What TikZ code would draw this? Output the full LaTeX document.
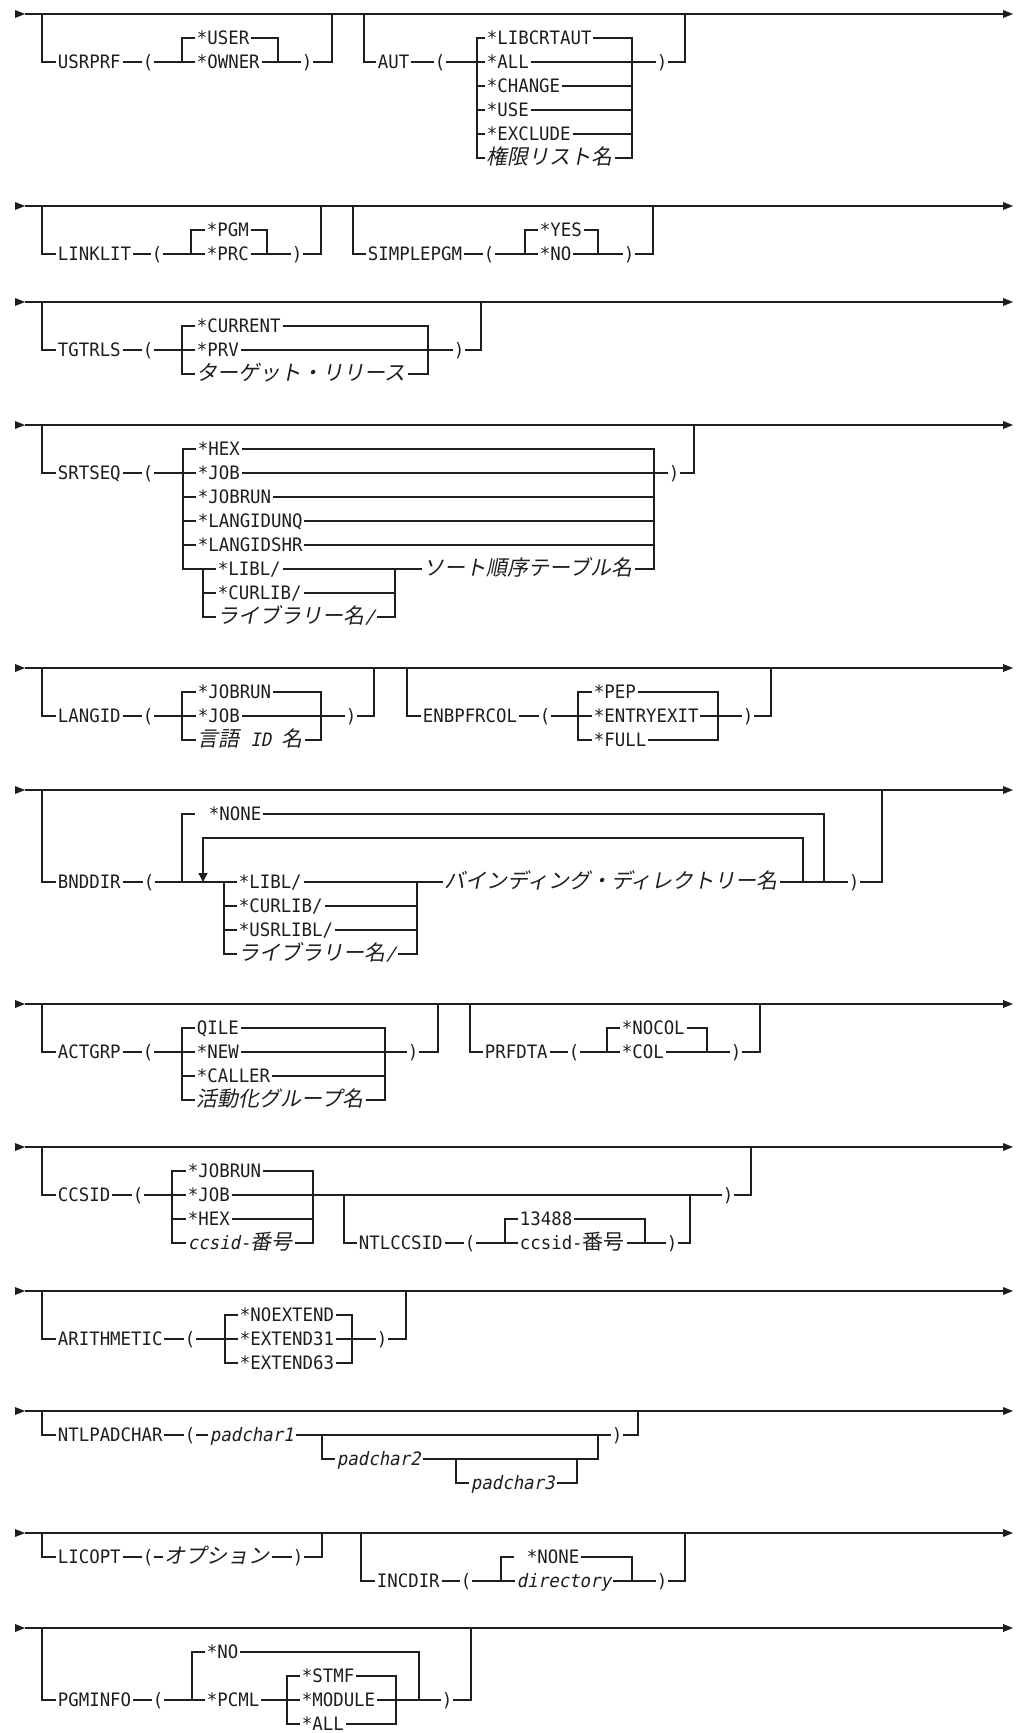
\documentclass[tikz,border=0pt]{standalone}
\usepackage{fontspec}
\usetikzlibrary{arrows.meta}
\newfontfamily\dmonofam{DejaVu Sans Mono}[FakeStretch=0.94]
\newfontfamily\dmonoifam{DejaVu Sans Mono}[FakeStretch=0.94,FakeSlant=0.2]
\newfontfamily\djpfam{Noto Sans CJK JP}
\newfontfamily\djpifam{Noto Sans CJK JP}[FakeSlant=0.2]
\newcommand\DMo{\dmonofam\fontsize{9.25pt}{10pt}\selectfont}
\newcommand\DMi{\dmonoifam\fontsize{9.25pt}{10pt}\selectfont}
\newcommand\DJp{\djpfam\fontsize{10.5pt}{12pt}\selectfont}
\newcommand\DJi{\djpifam\fontsize{10.5pt}{12pt}\selectfont}
\definecolor{ink}{RGB}{30,30,30}
\def\yA{24}\def\yB{48}\def\yC{72}\def\yD{96}
\def\yE{120}\def\yF{144}\def\yG{168}\def\yH{192}
\def\yR{92}\def\yRa{116}\def\yRb{140}\def\yRc{164}
\newcommand\MainLine[1]{%
  \coordinate (#1a) at (25,0); \coordinate (#1b) at (1003,0);
  \fill (15,-4) -- (#1a) -- (15,4) -- cycle;
  \draw (#1a) -- (#1b);
  \fill (1003,-4) -- (1013,0) -- (1003,4) -- cycle;}
\tikzset{
  t/.style={anchor=west,inner xsep=0.6pt,inner ysep=0pt,text height=8pt,text depth=1.25pt,font=\DMo},
  ti/.style={t,font=\DMi},
  tj/.style={t,font=\DJi},
  pc/.style={anchor=center,inner xsep=0pt,inner ysep=0pt,text height=8pt,text depth=1.25pt,font=\DMo},
}
\begin{document}
\begin{tikzpicture}[x=0.5pt,y=-0.5pt,line width=0.68pt,color=ink]
\useasboundingbox (0,0) rectangle (1021,1733);

% ---------------- Section 1 ----------------
\begin{scope}[shift={(0,14)}]
\MainLine{sA}
\node[t] (usrprf) at (56,\yB) {USRPRF};
\node[pc] (usrprfO) at (148,\yB) {(};
\node[t] (user) at (195,\yA) {*USER};
\node[t] (owner) at (195,\yB) {*OWNER};
\node[pc] (usrprfC) at (307,\yB) {)};
\draw (42,0) |- (usrprf);
\draw (usrprf) -- (usrprfO) -- (owner);
\draw (182,\yB) |- (user);
\draw (user) -| (278,\yB);
\draw (owner) -- (usrprfC);
\draw (usrprfC) -| (332,0);
\node[t] (aut) at (376,\yB) {AUT};
\node[pc] (autO) at (440,\yB) {(};
\node[t] (aut1) at (485,\yA) {*LIBCRTAUT};
\node[t] (aut2) at (485,\yB) {*ALL};
\node[t] (aut3) at (485,\yC) {*CHANGE};
\node[t] (aut4) at (485,\yD) {*USE};
\node[t] (aut5) at (485,\yE) {*EXCLUDE};
\node[tj] (aut6) at (485,\yF) {権限リスト名};
\node[pc] (autC) at (662,\yB) {)};
\draw (364,0) |- (aut);
\draw (aut) -- (autO) -- (aut2);
\foreach \n in {1,3,4,5,6} {\draw (477,\yB) |- (aut\n); \draw (aut\n) -| (632,\yB);}
\draw (aut2) -- (autC);
\draw (autC) -| (685,0);
\end{scope}

% ---------------- Section 2 ----------------
\begin{scope}[shift={(0,206)}]
\MainLine{sB}
\node[t] (lnk) at (56,\yB) {LINKLIT};
\node[pc] (lnkO) at (157,\yB) {(};
\node[t] (pgm) at (205,\yA) {*PGM};
\node[t] (prc) at (205,\yB) {*PRC};
\node[pc] (lnkC) at (297,\yB) {)};
\draw (42,0) |- (lnk);
\draw (lnk) -- (lnkO) -- (prc);
\draw (191,\yB) |- (pgm);
\draw (pgm) -| (267,\yB);
\draw (prc) -- (lnkC);
\draw (lnkC) -| (321,0);
\node[t] (smp) at (366,\yB) {SIMPLEPGM};
\node[pc] (smpO) at (489,\yB) {(};
\node[t] (yes) at (538,\yA) {*YES};
\node[t] (nno) at (538,\yB) {*NO};
\node[pc] (smpC) at (629,\yB) {)};
\draw (353,0) |- (smp);
\draw (smp) -- (smpO) -- (nno);
\draw (525,\yB) |- (yes);
\draw (yes) -| (598,\yB);
\draw (nno) -- (smpC);
\draw (smpC) -| (653,0);
\end{scope}

% ---------------- Section 3 ----------------
\begin{scope}[shift={(0,302)}]
\MainLine{sC}
\node[t] (tgt) at (56,\yB) {TGTRLS};
\node[pc] (tgtO) at (148,\yB) {(};
\node[t] (cur) at (195,\yA) {*CURRENT};
\node[t] (prv) at (195,\yB) {*PRV};
\node[tj] (tgr) at (195,\yC) {ターゲット・リリース};
\node[pc] (tgtC) at (459,\yB) {)};
\draw (42,0) |- (tgt);
\draw (tgt) -- (tgtO) -- (prv);
\draw (182,\yB) |- (cur);
\draw (182,\yB) |- (tgr);
\draw (cur) -| (428,\yB);
\draw (tgr) -| (428,\yB);
\draw (prv) -- (tgtC);
\draw (tgtC) -| (481,0);
\end{scope}

% ---------------- Section 4 ----------------
\begin{scope}[shift={(0,425)}]
\MainLine{sD}
\node[t] (srt) at (56,\yB) {SRTSEQ};
\node[pc] (srtO) at (148,\yB) {(};
\node[t] (hex) at (196,\yA) {*HEX};
\node[t] (job) at (196,\yB) {*JOB};
\node[t] (jobrun) at (196,\yC) {*JOBRUN};
\node[t] (lidu) at (196,\yD) {*LANGIDUNQ};
\node[t] (lids) at (196,\yE) {*LANGIDSHR};
\node[t] (libl) at (216,\yF) {*LIBL/};
\node[t] (curlib) at (216,\yG) {*CURLIB/};
\node[t] (libn) at (216,\yH) {{\DJi ライブラリー名}{\DMi /}};
\node[tj] (sort) at (422,\yF) {ソート順序テーブル名};
\node[pc] (srtC) at (674,\yB) {)};
\draw (42,0) |- (srt);
\draw (srt) -- (srtO) -- (job);
\foreach \n in {hex,jobrun,lidu,lids} {\draw (183,\yB) |- (\n); \draw (\n) -| (654,\yB);}
\draw (183,\yB) |- (libl);
\draw (203,\yF) |- (curlib);
\draw (203,\yF) |- (libn);
\draw (libl) -- (sort);
\draw (curlib) -| (395,\yF);
\draw (libn) -| (395,\yF);
\draw (sort) -| (654,\yB);
\draw (job) -- (srtC);
\draw (srtC) -| (694,0);
\end{scope}

% ---------------- Section 5 ----------------
\begin{scope}[shift={(0,668)}]
\MainLine{sE}
\node[t] (lng) at (56,\yB) {LANGID};
\node[pc] (lngO) at (148,\yB) {(};
\node[t] (ljr) at (196,\yA) {*JOBRUN};
\node[t] (ljb) at (196,\yB) {*JOB};
\node[t] (lnm) at (196,\yC) {{\DJi 言語}{\DMi\ ID\ }{\DJi 名}};
\node[pc] (lngC) at (351,\yB) {)};
\draw (42,0) |- (lng);
\draw (lng) -- (lngO) -- (ljb);
\draw (182,\yB) |- (ljr);
\draw (182,\yB) |- (lnm);
\draw (ljr) -| (321,\yB);
\draw (lnm) -| (321,\yB);
\draw (ljb) -- (lngC);
\draw (lngC) -| (374,0);
\node[t] (enb) at (421,\yB) {ENBPFRCOL};
\node[pc] (enbO) at (545,\yB) {(};
\node[t] (pep) at (592,\yA) {*PEP};
\node[t] (ent) at (592,\yB) {*ENTRYEXIT};
\node[t] (full) at (592,\yC) {*FULL};
\node[pc] (enbC) at (748,\yB) {)};
\draw (407,0) |- (enb);
\draw (enb) -- (enbO) -- (ent);
\draw (578,\yB) |- (pep);
\draw (578,\yB) |- (full);
\draw (pep) -| (718,\yB);
\draw (full) -| (718,\yB);
\draw (ent) -- (enbC);
\draw (enbC) -| (771,0);
\end{scope}

% ---------------- Section 6 ----------------
\begin{scope}[shift={(0,790)}]
\MainLine{sF}
\node[t] (bnd) at (56,\yR) {BNDDIR};
\node[pc] (bndO) at (149,\yR) {(};
\node[t] (none) at (207,\yA) {*NONE};
\node[t] (libl2) at (237,\yR) {*LIBL/};
\node[t] (cur2) at (237,\yRa) {*CURLIB/};
\node[t] (usr2) at (237,\yRb) {*USRLIBL/};
\node[t] (libn2) at (237,\yRc) {{\DJi ライブラリー名}{\DMi /}};
\node[tj] (bdn) at (443,\yR) {バインディング・ディレクトリー名};
\node[pc] (bndC) at (854,\yR) {)};
\draw (42,0) |- (bnd);
\draw (bnd) -- (bndO) -- (libl2);
\draw (182,\yR) |- (195,\yA);
\draw (none) -| (824,\yR);
\draw[-{Triangle[length=4.5pt,width=4.5pt]}] (803,\yR) |- (203,\yB) -- (203,\yR);
\foreach \n in {cur2,usr2,libn2} {\draw (224,\yR) |- (\n); \draw (\n) -| (417,\yR);}
\draw (libl2) -- (bdn);
\draw (bdn) -- (bndC);
\draw (bndC) -| (882,0);
\end{scope}

% ---------------- Section 7 ----------------
\begin{scope}[shift={(0,1004)}]
\MainLine{sG}
\node[t] (act) at (56,\yB) {ACTGRP};
\node[pc] (actO) at (148,\yB) {(};
\node[t] (qile) at (195,\yA) {QILE};
\node[t] (new) at (195,\yB) {*NEW};
\node[t] (caller) at (195,\yC) {*CALLER};
\node[tj] (agn) at (195,\yD) {活動化グループ名};
\node[pc] (actC) at (413,\yB) {)};
\draw (42,0) |- (act);
\draw (act) -- (actO) -- (new);
\foreach \n in {qile,caller,agn} {\draw (182,\yB) |- (\n); \draw (\n) -| (385,\yB);}
\draw (new) -- (actC);
\draw (actC) -| (438,0);
\node[t] (prf) at (483,\yB) {PRFDTA};
\node[pc] (prfO) at (574,\yB) {(};
\node[t] (nocol) at (620,\yA) {*NOCOL};
\node[t] (col) at (620,\yB) {*COL};
\node[pc] (prfC) at (736,\yB) {)};
\draw (470,0) |- (prf);
\draw (prf) -- (prfO) -- (col);
\draw (607,\yB) |- (nocol);
\draw (nocol) -| (707,\yB);
\draw (col) -- (prfC);
\draw (prfC) -| (760,0);
\end{scope}

% ---------------- Section 8 ----------------
\begin{scope}[shift={(0,1147)}]
\MainLine{sH}
\node[t] (ccs) at (56,\yB) {CCSID};
\node[pc] (ccsO) at (138,\yB) {(};
\node[t] (cjr) at (186,\yA) {*JOBRUN};
\node[t] (cjb) at (186,\yB) {*JOB};
\node[t] (chx) at (186,\yC) {*HEX};
\node[t] (cnum) at (186,\yD) {{\DMi ccsid-}{\DJi 番号}};
\node[t] (ntl) at (357,\yD) {NTLCCSID};
\node[pc] (ntlO) at (470,\yD) {(};
\node[t] (n13) at (518,\yC) {13488};
\node[t] (nnum) at (518,\yD) {ccsid-{\DJp 番号}};
\node[pc] (ntlC) at (672,\yD) {)};
\node[pc] (ccsC) at (728,\yB) {)};
\draw (42,0) |- (ccs);
\draw (ccs) -- (ccsO) -- (cjb);
\foreach \n in {cjr,chx,cnum} {\draw (172,\yB) |- (\n); \draw (\n) -| (313,\yB);}
\draw (cjb) -- (ccsC);
\draw (344,\yB) |- (ntl);
\draw (ntl) -- (ntlO) -- (nnum);
\draw (505,\yD) |- (n13);
\draw (n13) -| (645,\yD);
\draw (nnum) -- (ntlC);
\draw (ntlC) -| (690,\yB);
\draw (ccsC) -| (751,0);
\end{scope}

% ---------------- Section 9 ----------------
\begin{scope}[shift={(0,1291)}]
\MainLine{sI}
\node[t] (ari) at (56,\yB) {ARITHMETIC};
\node[pc] (ariO) at (190,\yB) {(};
\node[t] (noe) at (238,\yA) {*NOEXTEND};
\node[t] (e31) at (238,\yB) {*EXTEND31};
\node[t] (e63) at (238,\yC) {*EXTEND63};
\node[pc] (ariC) at (382,\yB) {)};
\draw (42,0) |- (ari);
\draw (ari) -- (ariO) -- (e31);
\foreach \n in {noe,e63} {\draw (225,\yB) |- (\n); \draw (\n) -| (352,\yB);}
\draw (e31) -- (ariC);
\draw (ariC) -| (406,0);
\end{scope}

% ---------------- Section 10 ----------------
\begin{scope}[shift={(0,1411)}]
\MainLine{sJ}
\node[t] (npc) at (56,\yA) {NTLPADCHAR};
\node[pc] (npcO) at (190,\yA) {(};
\node[ti] (pc1) at (208,\yA) {padchar1};
\node[ti] (pc2) at (335,\yB) {padchar2};
\node[ti] (pc3) at (469,\yC) {padchar3};
\node[pc] (npcC) at (617,\yA) {)};
\draw (42,0) |- (npc);
\draw (npc) -- (npcO) -- (pc1);
\draw (pc1) -- (npcC);
\draw (322,\yA) |- (pc2);
\draw (pc2) -| (598,\yA);
\draw (456,\yB) |- (pc3);
\draw (pc3) -| (577,\yB);
\draw (npcC) -| (638,0);
\end{scope}

% ---------------- Section 11 ----------------
\begin{scope}[shift={(0,1533)}]
\MainLine{sK}
\node[t] (lic) at (56,\yA) {LICOPT};
\node[pc] (licO) at (148,\yA) {(};
\node[tj] (opt) at (163,\yA) {オプション};
\node[pc] (licC) at (298,\yA) {)};
\draw (42,0) |- (lic);
\draw (lic) -- (licO) -- (opt) -- (licC);
\draw (licC) -| (322,0);
\node[t] (inc) at (375,\yB) {INCDIR};
\node[pc] (incO) at (466,\yB) {(};
\node[t] (none2) at (525,\yA) {*NONE};
\node[ti] (dir) at (515,\yB) {directory};
\node[pc] (incC) at (662,\yB) {)};
\draw (361,0) |- (inc);
\draw (inc) -- (incO) -- (dir);
\draw (501,\yB) |- (514,\yA);
\draw (none2) -| (632,\yB);
\draw (dir) -- (incC);
\draw (incC) -| (685,0);
\end{scope}

% ---------------- Section 12 ----------------
\begin{scope}[shift={(0,1628)}]
\MainLine{sL}
\node[t] (pgi) at (56,\yC) {PGMINFO};
\node[pc] (pgiO) at (158,\yC) {(};
\node[t] (pno) at (205,\yA) {*NO};
\node[t] (pcml) at (205,\yC) {*PCML};
\node[t] (stmf) at (300,\yB) {*STMF};
\node[t] (module) at (300,\yC) {*MODULE};
\node[t] (pall) at (300,\yD) {*ALL};
\node[pc] (pgiC) at (447,\yC) {)};
\draw (42,0) |- (pgi);
\draw (pgi) -- (pgiO) -- (pcml);
\draw (192,\yC) |- (pno);
\draw (pno) -| (419,\yC);
\draw (pcml) -- (module);
\foreach \n in {stmf,pall} {\draw (287,\yC) |- (\n); \draw (\n) -| (396,\yC);}
\draw (module) -- (pgiC);
\draw (pgiC) -| (471,0);
\end{scope}
\end{tikzpicture}
\end{document}
